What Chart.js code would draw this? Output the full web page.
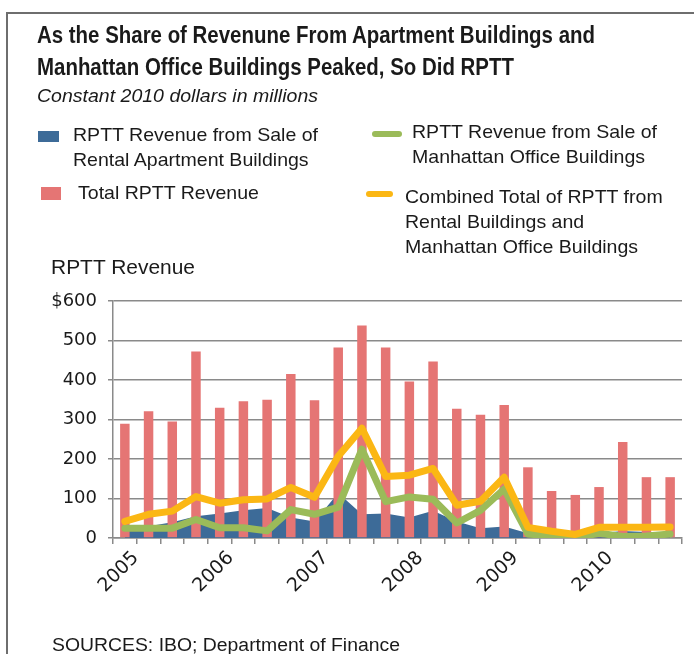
<!DOCTYPE html>
<html><head><meta charset="utf-8">
<script src="https://cdn.jsdelivr.net/npm/chart.js@4.4.1/dist/chart.umd.min.js"></script>
<style>
html,body{margin:0;padding:0;background:#fff;}
body{width:694px;height:654px;position:relative;overflow:hidden;font-family:"Liberation Sans",Arial,sans-serif;color:#1a1a1a;}
#c{position:absolute;left:0;top:0;}
.t{position:absolute;white-space:nowrap;transform-origin:0 50%;}
.lg{font-size:19px;line-height:24px;height:24px;}
.frameL{position:absolute;left:6px;top:12px;width:2px;height:660px;background:#6e6e6e;}
.frameT{position:absolute;left:6px;top:12px;width:700px;height:2px;background:#6e6e6e;}
.sw{position:absolute;}
</style></head>
<body>
<canvas id="c" width="694" height="654"></canvas>
<div class="frameL"></div><div class="frameT"></div>

<div class="t" id="t1" data-w="558" style="left:37px;top:19px;font:bold 24px 'Liberation Sans Narrow','Liberation Sans',sans-serif;line-height:32px;height:32px;">As the Share of Revenune From Apartment Buildings and</div>
<div class="t" data-same="t1" style="left:37px;top:51px;font:bold 24px 'Liberation Sans Narrow','Liberation Sans',sans-serif;line-height:32px;height:32px;">Manhattan Office Buildings Peaked, So Did RPTT</div>
<div class="t" data-w="281" style="left:37px;top:84px;font:italic 18px 'Liberation Sans',sans-serif;line-height:24px;height:24px;">Constant 2010 dollars in millions</div>

<div class="sw" style="left:38px;top:131px;width:21px;height:11px;background:#3d6b98;"></div>
<div class="t lg" id="l1" data-w="245" style="left:73px;top:123px;">RPTT Revenue from Sale of</div>
<div class="t lg" data-same="l1" style="left:73px;top:148px;">Rental Apartment Buildings</div>

<div class="sw" style="left:41px;top:187px;width:20px;height:13px;background:#e57574;"></div>
<div class="t lg" data-same="l1" style="left:78px;top:181px;">Total RPTT Revenue</div>

<div class="sw" style="left:372px;top:131px;width:30px;height:6px;border-radius:3px;background:#9bbb59;"></div>
<div class="t lg" data-same="l1" style="left:412px;top:120px;">RPTT Revenue from Sale of</div>
<div class="t lg" data-same="l1" style="left:412px;top:145px;">Manhattan Office Buildings</div>

<div class="sw" style="left:366px;top:191px;width:27px;height:6px;border-radius:3px;background:#fbb714;"></div>
<div class="t lg" data-same="l1" style="left:405px;top:185px;">Combined Total of RPTT from</div>
<div class="t lg" data-same="l1" style="left:405px;top:210px;">Rental Buildings and</div>
<div class="t lg" data-same="l1" style="left:405px;top:235px;">Manhattan Office Buildings</div>

<div class="t" data-w="144" style="left:51px;top:255px;font-size:21px;line-height:24px;height:24px;">RPTT Revenue</div>

<div class="t" data-w="348" style="left:52px;top:633px;font-size:18px;line-height:24px;height:24px;">SOURCES: IBO; Department of Finance</div>

<script>
// ---- data, $ millions, constant 2010 dollars ----
const quarters = ['2005 Q1','2005 Q2','2005 Q3','2005 Q4','2006 Q1','2006 Q2','2006 Q3','2006 Q4',
                  '2007 Q1','2007 Q2','2007 Q3','2007 Q4','2008 Q1','2008 Q2','2008 Q3','2008 Q4',
                  '2009 Q1','2009 Q2','2009 Q3','2009 Q4','2010 Q1','2010 Q2','2010 Q3','2010 Q4'];
const yearLabels = ['2005','2006','2007','2008','2009','2010'];
const totalRPTT     = [289,321,295,472,330,346,350,415,349,482,538,482,396,447,327,312,337,179,119,109,129,243,154,154];
const apartmentRPTT = [18,30,40,55,62,70,76,52,42,114,60,62,52,69,42,25,29,12,8,5,12,18,15,12];
const officeRPTT    = [25,25,25,47,26,26,18,72,60,78,225,92,104,98,38,70,124,10,5,0,12,4,5,10];
const combinedRPTT  = [42,60,68,105,88,97,99,128,103,207,278,156,159,176,83,93,154,27,17,9,27,27,27,28];
const yTicks = {min:0, max:600, step:100};

const grey = '#8a8a8a';
new Chart(document.getElementById('c'), {
  type: 'bar',
  data: {
    labels: quarters,
    datasets: [
      {type:'line', label:'Combined Total of RPTT from Rental Buildings and Manhattan Office Buildings',
       data: combinedRPTT, borderColor:'#fbb714', borderWidth:7, pointRadius:0, tension:0, fill:false,
       borderJoinStyle:'round', borderCapStyle:'round', order:1},
      {type:'line', label:'RPTT Revenue from Sale of Manhattan Office Buildings',
       data: officeRPTT, borderColor:'#9bbb59', borderWidth:7, pointRadius:0, tension:0, fill:false,
       borderJoinStyle:'round', borderCapStyle:'round', order:2},
      {type:'bar', label:'Total RPTT Revenue', data: totalRPTT, backgroundColor:'#e57574',
       barPercentage:0.4, categoryPercentage:1, order:3},
      {type:'line', label:'RPTT Revenue from Sale of Rental Apartment Buildings', data: apartmentRPTT,
       borderColor:'rgba(0,0,0,0)', borderWidth:0, backgroundColor:'#3d6b98', fill:'origin',
       pointRadius:0, tension:0, order:4}
    ]
  },
  options: {
    responsive:false, animation:false, devicePixelRatio:1,
    layout:{padding:{left:0, top:301, right:12, bottom:56}},
    plugins:{legend:{display:false}, tooltip:{enabled:false}},
    scales:{
      x:{
        offset:true,
        grid:{offset:true, drawOnChartArea:false, drawTicks:true, tickLength:6, color:grey, lineWidth:1.5},
        border:{color:grey, width:1.5},
        ticks:{autoSkip:false, minRotation:45, maxRotation:45, padding:3, labelOffset:11,
               font:{family:'DejaVu Sans', size:19}, color:'#1a1a1a',
               callback:(v,i)=> i%4===0 ? yearLabels[i/4] : ''},
        afterFit:s=>{s.height=60;}
      },
      y:{
        min:yTicks.min, max:yTicks.max,
        ticks:{stepSize:yTicks.step, padding:11, font:{family:'DejaVu Sans', size:18}, color:'#1a1a1a',
               callback:v=> v===600 ? '$600' : String(v)},
        grid:{color:grey, lineWidth:1.5, tickLength:5, drawTicks:true},
        border:{color:grey, width:1.5},
        afterFit:s=>{s.width=113;}
      }
    }
  }
});

function fit(){
  document.querySelectorAll('[data-w]').forEach(el=>{
    el.style.transform='none';
    const w = el.getBoundingClientRect().width;
    const s = (+el.dataset.w)/w;
    el.dataset.s = s;
    el.style.transform = 'scaleX(' + s + ')';
  });
  document.querySelectorAll('[data-same]').forEach(el=>{
    const ref = document.getElementById(el.dataset.same);
    el.style.transform = 'scaleX(' + ref.dataset.s + ')';
  });
}
fit();
if (document.fonts && document.fonts.ready) document.fonts.ready.then(fit);
</script>
</body></html>
